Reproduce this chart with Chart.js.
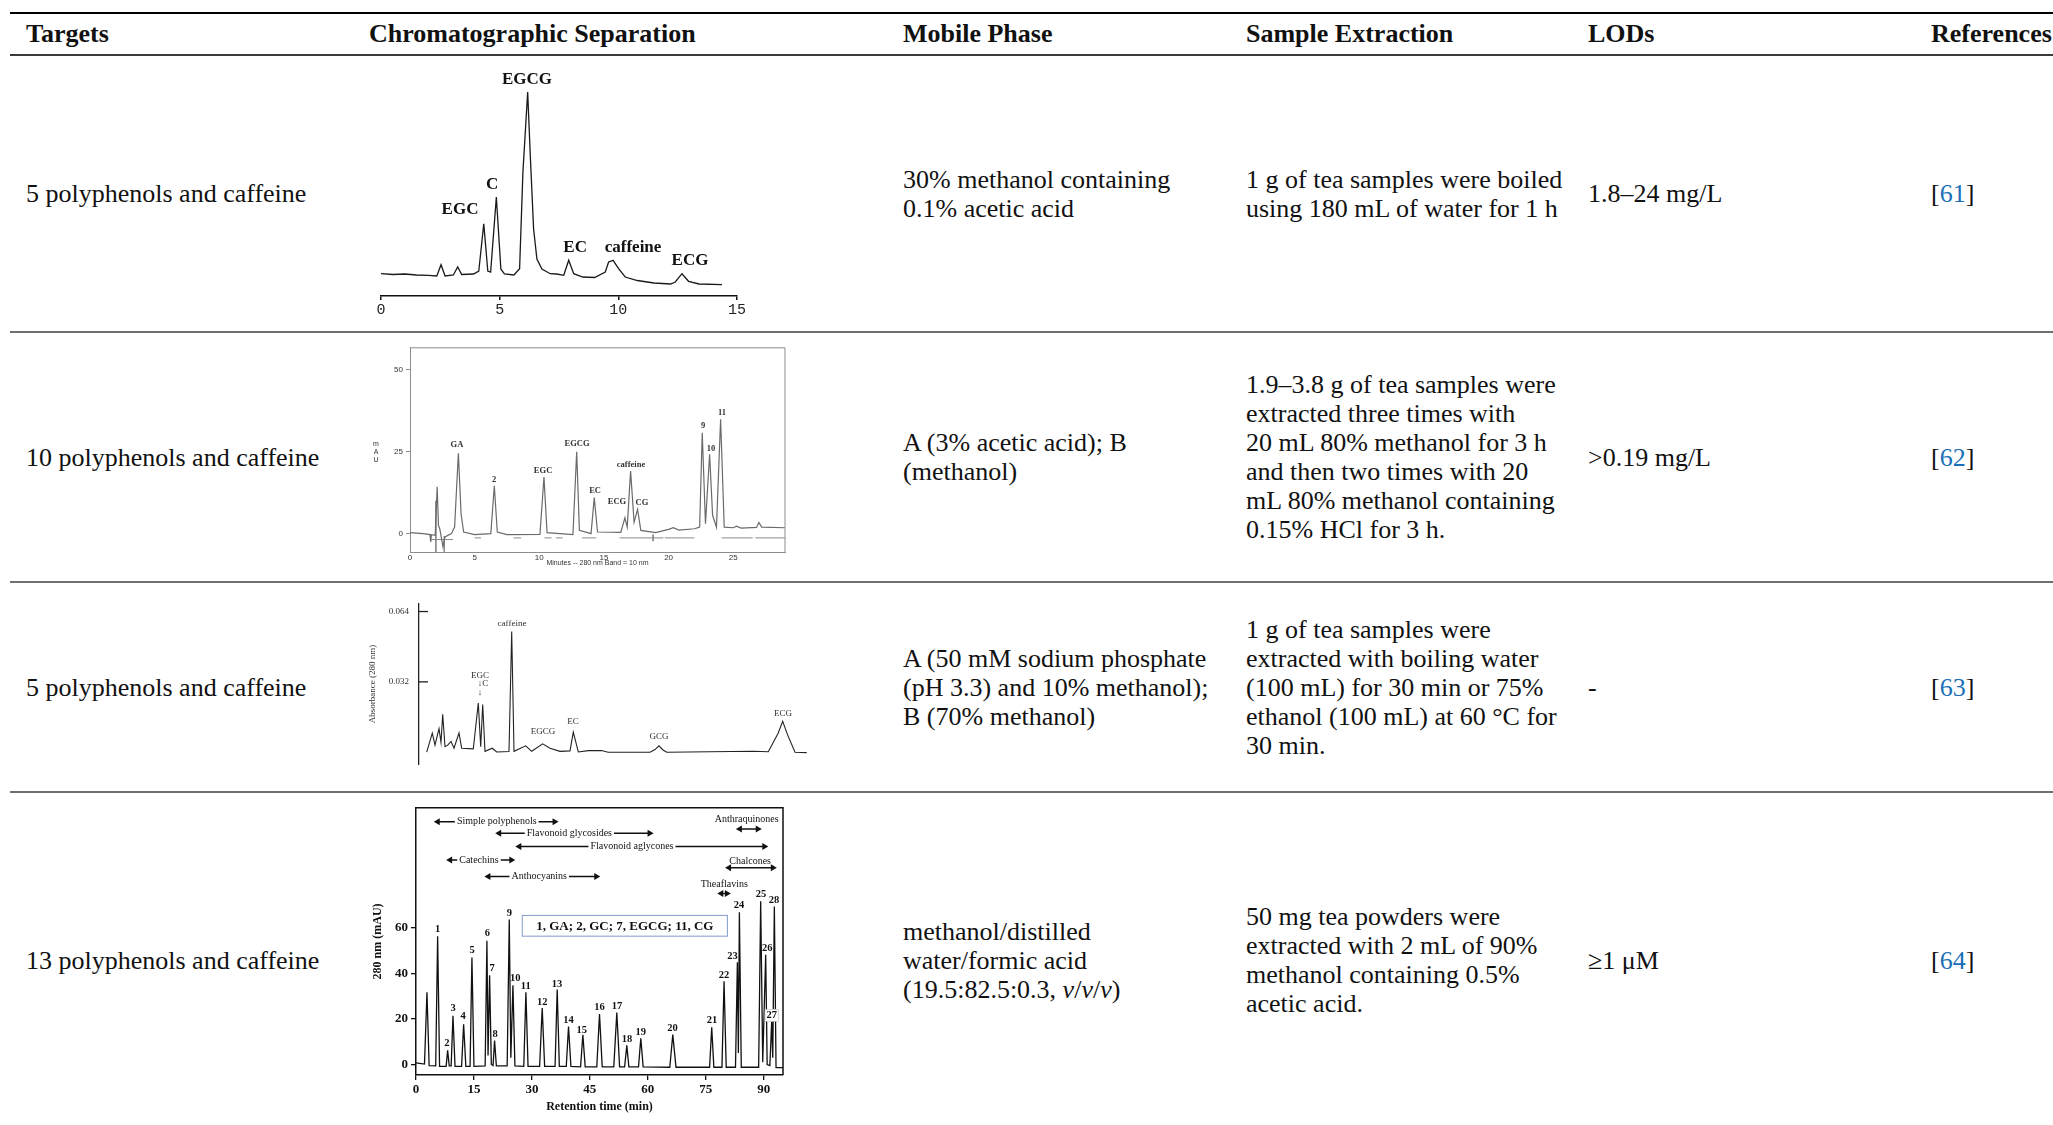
<!DOCTYPE html>
<html>
<head>
<meta charset="utf-8">
<script src="https://cdn.jsdelivr.net/npm/chart.js@4.4.1/dist/chart.umd.min.js"></script>
<style>
  html, body { margin: 0; padding: 0; background: #fff; }
  #page { position: relative; width: 2053px; height: 1125px; overflow: hidden; font-family: 'Liberation Serif', serif; color: #111; }
  .rule { position: absolute; left: 10px; right: 0; }
  .head { position: absolute; top: 14px; height: 40px; line-height: 40px; font-size: 26px; font-weight: bold; white-space: nowrap; }
  .cell { position: absolute; display: flex; align-items: center; font-size: 26px; line-height: 29px; white-space: nowrap; }
  .ref a { color: #1a6fb8; text-decoration: none; }
  canvas { position: absolute; }
</style>
</head>
<body>
<div id="page"></div>
<script>
// ---- table text ----
var headers = ['Targets', 'Chromatographic Separation', 'Mobile Phase', 'Sample Extraction', 'LODs', 'References'];
var targets = ['5 polyphenols and caffeine', '10 polyphenols and caffeine', '5 polyphenols and caffeine', '13 polyphenols and caffeine'];
var mobilePhase = [
  '30% methanol containing<br>0.1% acetic acid',
  'A (3% acetic acid); B<br>(methanol)',
  'A (50 mM sodium phosphate<br>(pH 3.3) and 10% methanol);<br>B (70% methanol)',
  'methanol/distilled<br>water/formic acid<br>(19.5:82.5:0.3, <i>v</i>/<i>v</i>/<i>v</i>)'
];
var extraction = [
  '1 g of tea samples were boiled<br>using 180 mL of water for 1 h',
  '1.9–3.8 g of tea samples were<br>extracted three times with<br>20 mL 80% methanol for 3 h<br>and then two times with 20<br>mL 80% methanol containing<br>0.15% HCl for 3 h.',
  '1 g of tea samples were<br>extracted with boiling water<br>(100 mL) for 30 min or 75%<br>ethanol (100 mL) at 60 °C for<br>30 min.',
  '50 mg tea powders were<br>extracted with 2 mL of 90%<br>methanol containing 0.5%<br>acetic acid.'
];
var lods = ['1.8–24 mg/L', '&gt;0.19 mg/L', '-', '≥1 μM'];
var refs = ['61', '62', '63', '64'];

// ---- chromatogram 1 (C18, 0-15 min) ----
var c1Time = [0,0.5,1.0,1.5,2.0,2.35,2.53,2.7,3.05,3.23,3.4,3.9,4.12,4.33,4.5,4.62,4.86,5.05,5.2,5.6,5.84,5.98,6.18,6.29,6.43,6.57,6.78,7.13,7.4,7.7,7.91,8.12,8.5,9.0,9.45,9.59,9.78,10.01,10.29,10.8,11.5,12.2,12.4,12.68,12.96,13.4,14.37];
var c1Signal = [22.3,21.5,22,21,20.7,20,31.3,20,21,29,21.5,22,25,72.3,25,24,99,27,22,21,27.3,124,204,140.7,67,37,27,22.3,22,20.7,35.7,22.3,19,18.5,24,34,35.7,27.3,19,15.5,13,12,14,22.3,14.7,12,11.3];
var c1Ticks = [0, 5, 10, 15];
var c1Labels = [['EGCG',6.15,216],['C',4.68,111],['EGC',3.33,86],['EC',8.18,48],['caffeine',10.62,48],['ECG',13.02,35]];

// ---- chromatogram 2 (mAU, 0-29 min) ----
var c2Time = [0,1.0,1.55,1.6,1.65,1.95,2.1,2.2,2.3,2.55,2.7,3.2,3.45,3.74,3.95,4.15,5.0,6.25,6.52,6.75,7.5,10.05,10.36,10.6,12.6,12.89,13.1,14.0,14.25,14.5,16.3,16.62,16.8,17.06,17.33,17.6,17.85,19.0,20.0,20.36,20.8,22.0,22.4,22.6,22.85,23.17,23.4,23.7,24.02,24.3,25.0,25.26,25.6,26.8,26.98,27.2,29.0];
var c2Signal = [0.3,0,-0.3,-2.5,-0.3,-0.5,14.3,2.5,1.5,-4.0,-1,0,2,24.5,6,0.5,-0.3,0,14.6,0.5,-0.3,-0.2,17.3,0.3,-0.3,25,1,0,11,0.5,0.4,4.8,2,19.1,3.5,7.4,1,0.3,1.3,1.8,1.1,1.5,2,30.8,3,24.2,5.6,2,34.9,2,1.8,2.3,1.7,1.9,3.4,2.0,1.8];
var c2MarkX = [1.62,3.33,3.33, 5.0,5.5,5.5, 8.0,8.6,8.6, 10.4,10.95,10.95, 11.3,11.8,11.8, 13.3,14.4,14.4, 16.2,19.6,19.6, 19.7,22.0,22.0, 24.1,26.5,26.5, 26.7,29.0,29.0, 2.0,2.0,2.0, 2.65,2.65,2.65, 18.8,18.8];
var c2MarkY = [-1.8,-1.8,null, -1.3,-1.3,null, -1.3,-1.3,null, -1.3,-1.3,null, -1.3,-1.3,null, -1.3,-1.3,null, -1.3,-1.3,null, -1.3,-1.3,null, -1.3,-1.3,null, -1.3,-1.3,null, 10,-5.6,null, -0.8,-5.6,null, -0.3,-2.3];
var c2XTicks = [0, 5, 10, 15, 20, 25];
var c2YTicks = [0, 25, 50];
var c2Labels = [['GA',3.63,27.2],['2',6.5,16.5],['EGC',10.29,19.3],['EGCG',12.92,27.5],['EC',14.31,13.2],['ECG',16.01,9.8],['caffeine',17.09,21.1],['CG',17.94,9.5],['9',22.66,33],['10',23.28,26],['11',24.13,36.9]];

// ---- chromatogram 3 (absorbance 280 nm) ----
var c3Time = [0.77,1.33,1.6,2.0,2.2,2.37,2.6,2.87,3.2,3.5,4.0,4.27,5.43,5.93,6.17,6.37,6.6,7.33,7.77,9.0,9.27,9.5,10.67,11.27,12.37,13.1,14.1,15.1,15.43,15.93,16.93,18.27,18.9,23.1,23.6,24.0,24.4,24.77,33.43,34.93,35.9,36.37,36.85,37.6,38.77];
var c3Signal = [0,0.0087,0.0032,0.0107,0.0045,0.0172,0.0025,0.0032,0.0049,0.0018,0.0087,0.0018,0.0015,0.0224,0.0025,0.0217,0.0004,0.0018,0.0001,0.0003,0.0549,0.0004,0.0029,0.0004,0.0038,0.0018,0.0004,0.0006,0.0091,0.0001,0.0007,0.0008,0,0,0.0012,0.0029,0.0010,0,0.0004,0.0002,0.0085,0.0141,0.0080,0,-0.0002];
var c3YTicks = [0.032, 0.064];
var c3Labels = [['caffeine',9.3,0.0586],['EGC',6.1,0.0347],['↓C',6.4,0.031],['↓',6.1,0.0273],['EGCG',12.4,0.0092],['EC',15.4,0.0137],['GCG',24.0,0.0071],['ECG',36.4,0.0174]];

// ---- chromatogram 4 (280 nm mAU, 0-95 min) ----
var c4Time = [0,2.2,2.84,3.4,5.1,5.6,6.1,7.8,8.19,8.6,9.1,9.57,10.1,11.8,12.33,12.9,14.0,14.48,15.0,17.9,18.36,18.65,19.05,19.5,19.95,20.34,20.8,23.6,24.14,24.55,25.09,25.6,27.9,28.45,29.0,32.0,32.67,33.3,36.0,36.55,37.1,38.9,39.48,40.1,42.6,43.19,43.8,46.8,47.5,48.2,51.2,51.98,52.7,54.0,54.57,55.1,57.6,58.19,58.8,65.7,66.47,67.3,76.0,76.55,77.1,79.2,79.74,80.3,82.7,83.19,83.45,83.71,84.2,88.7,89.22,89.75,90.52,90.9,91.6,92.07,92.35,92.76,93.2,95];
var c4Signal = [0.7,0.2,31.7,-0.5,-0.6,56.3,-0.8,-0.8,6.2,-0.6,-0.6,21.4,-0.8,-0.8,17.7,-0.8,-0.8,46.9,-0.8,-0.6,54.3,4,39.1,0,-0.5,10.5,-0.6,-0.6,63.6,3,34.8,-0.6,-0.8,31.7,-0.8,-0.8,24.8,-0.8,-0.8,32.9,-0.8,-0.8,16.7,-0.8,-1,13.0,-1,-1,22.1,-1,-1,22.8,-1,-1,8.4,-1,-1,11.5,-1,-1.2,13.1,-1.2,-1.2,16.3,-1.2,-1.2,36.5,-1.2,-1.2,44.9,5,66.8,-1.2,-1.2,71.6,1,48.1,0,-0.5,18.8,3,69.3,-1.4,-1.4];
var c4XTicks = [0, 15, 30, 45, 60, 75, 90];
var c4YTicks = [0, 20, 40, 60];
var c4Labels = [['1',5.6,59.3],['2',8.0,9.1],['3',9.6,24.7],['4',12.2,21.1],['5',14.5,50.2],['6',18.5,57.4],['7',19.7,42],['8',20.5,13.4],['9',24.2,66.5],['10',25.7,38],['11',28.4,34.3],['12',32.7,27.4],['13',36.5,35.4],['14',39.5,19.2],['15',42.9,14.9],['16',47.5,25],['17',52.0,25.4],['18',54.6,11],['19',58.2,14.1],['20',66.4,15.9],['21',76.6,19.2],['22',79.7,39.1],['23',81.9,47.6],['24',83.6,69.7],['25',89.3,74.7],['26',90.9,50.9],['27',92.1,21.6],['28',92.7,72.2]];
// compound classes: [label, from, to, arrow y, text x, text y]
var c4Groups = [
  ['Simple polyphenols', 4.6, 36.9, 106.5, 20.9, 106.5],
  ['Flavonoid glycosides', 20.5, 61.5, 101.4, 39.7, 101.4],
  ['Flavonoid aglycones', 25.7, 91.2, 95.6, 55.9, 95.6],
  ['Catechins', 7.8, 25.7, 89.7, 16.3, 89.7],
  ['Anthocyanins', 17.7, 47.7, 82.5, 31.9, 82.5],
  ['Anthraquinones', 82.8, 89.5, 103.3, 85.6, 107.4],
  ['Chalcones', 80.0, 93.4, 86.3, 86.5, 89.3],
  ['Theaflavins', 78.0, 81.5, 75.0, 79.8, 78.8]
];
var c4Key = ['1, GA; 2, GC; 7, EGCG; 11, CG', 27.5, 80.6, 65.4, 56.3];

// ---- page layout ----
var page = document.getElementById('page');
var colX = [26, 369, 903, 1246, 1588, 1931];
var rowTop = [55, 332, 582, 792];
var rowBot = [332, 582, 792, 1128];

function addDiv(cls, css, html) {
  var d = document.createElement('div');
  d.className = cls;
  d.style.cssText = css;
  if (html !== undefined) d.innerHTML = html;
  page.appendChild(d);
  return d;
}
addDiv('rule', 'top:12px;height:2.3px;background:#000;');
addDiv('rule', 'top:54.3px;height:1.5px;background:#3a3a3a;');
[331.3, 581.3, 791.3].forEach(function (y) { addDiv('rule', 'top:' + y + 'px;height:1.6px;background:#707070;'); });
headers.forEach(function (h, i) { addDiv('head', 'left:' + colX[i] + 'px;', h); });

function addCell(r, col, html, cls) {
  var box = 'top:' + rowTop[r] + 'px;height:' + (rowBot[r] - rowTop[r]) + 'px;left:' + colX[col] + 'px;';
  addDiv('cell' + (cls ? ' ' + cls : ''), box, '<div>' + html + '</div>');
}
for (var r = 0; r < 4; r++) {
  addCell(r, 0, targets[r]);
  addCell(r, 2, mobilePhase[r]);
  addCell(r, 3, extraction[r]);
  addCell(r, 4, lods[r]);
  addCell(r, 5, '[<a>' + refs[r] + '</a>]', 'ref');
}

function makeCanvas(left, top, w, h) {
  var c = document.createElement('canvas');
  c.width = w; c.height = h;
  c.style.left = left + 'px'; c.style.top = top + 'px';
  c.style.width = w + 'px'; c.style.height = h + 'px';
  page.appendChild(c);
  return c.getContext('2d');
}

// ---- helpers ----
Chart.defaults.font.family = "'Liberation Serif', serif";
Chart.defaults.color = '#000';
Chart.defaults.animation = false;

function pts(xs, ys) { return xs.map(function (x, i) { return { x: x, y: ys[i] }; }); }
function fixWidth(w) { return function (s) { s.width = w; }; }
function fixHeight(h) { return function (s) { s.height = h; }; }
function useTicks(vals) { return function (s) { s.ticks = vals.map(function (v) { return { value: v }; }); }; }

function labelPlugin(items, font, color, boxed) {
  return {
    id: 'peakLabels',
    afterDatasetsDraw: function (chart) {
      var ctx = chart.ctx, xs = chart.scales.x, ys = chart.scales.y;
      ctx.save();
      ctx.font = font;
      ctx.textAlign = 'center';
      ctx.textBaseline = 'middle';
      items.forEach(function (it) {
        var px = xs.getPixelForValue(it[1]), py = ys.getPixelForValue(it[2]);
        if (boxed && boxed.indexOf(it[0]) >= 0) {
          var w = ctx.measureText(it[0]).width;
          ctx.fillStyle = '#fff';
          ctx.fillRect(px - w / 2 - 1.5, py - 6, w + 3, 12);
          ctx.strokeStyle = '#bbb'; ctx.lineWidth = 0.6;
          ctx.strokeRect(px - w / 2 - 1.5, py - 6, w + 3, 12);
        }
        ctx.fillStyle = color;
        ctx.fillText(it[0], px, py);
      });
      ctx.restore();
    }
  };
}

function framePlugin(color, width) {
  return {
    id: 'frame',
    afterDraw: function (chart) {
      var a = chart.chartArea, ctx = chart.ctx;
      ctx.save();
      ctx.strokeStyle = color; ctx.lineWidth = width;
      ctx.beginPath();
      ctx.moveTo(a.left, a.top); ctx.lineTo(a.right, a.top); ctx.lineTo(a.right, a.bottom);
      ctx.stroke();
      ctx.restore();
    }
  };
}

function baseOptions(pad) {
  return {
    responsive: false,
    animation: false,
    events: [],
    layout: { padding: pad },
    elements: { point: { radius: 0 }, line: { tension: 0 } },
    plugins: { legend: { display: false }, tooltip: { enabled: false } }
  };
}

// ---- chart 1 ----
(function () {
  var opt = baseOptions({ left: 13, right: 13, top: 6, bottom: 7 });
  opt.scales = {
    x: {
      type: 'linear', min: 0, max: 15,
      afterBuildTicks: useTicks(c1Ticks), afterFit: fixHeight(22),
      border: { display: true, color: '#111', width: 1.5 },
      grid: { display: true, drawOnChartArea: false, drawTicks: true, tickLength: 4, color: '#111', lineWidth: 1.5 },
      ticks: { padding: 1, font: { family: "'Liberation Mono', monospace", size: 15 }, color: '#222', maxRotation: 0 }
    },
    y: { display: false, min: 0, max: 230 }
  };
  new Chart(makeCanvas(368, 60, 382, 265), {
    type: 'line',
    data: { datasets: [{ data: pts(c1Time, c1Signal), borderColor: '#1a1a1a', borderWidth: 1.3, fill: false }] },
    options: opt,
    plugins: [labelPlugin(c1Labels, "bold 17px 'Liberation Serif'", '#111')]
  });
})();

// ---- chart 2 ----
(function () {
  var opt = baseOptions({ left: 4, right: 9, top: 7, bottom: 5 });
  opt.scales = {
    x: {
      type: 'linear', min: 0, max: 29,
      afterBuildTicks: useTicks(c2XTicks), afterFit: fixHeight(15),
      border: { display: true, color: '#8c8c8c', width: 1 },
      grid: { display: false, drawTicks: false },
      ticks: { padding: 1, font: { family: "'Liberation Sans', sans-serif", size: 8 }, color: '#333', maxRotation: 0 },
      title: { display: true, text: 'Minutes -- 280 nm Band = 10 nm', font: { family: "'Liberation Sans', sans-serif", size: 7 }, color: '#333', padding: { top: 0, bottom: 0 } }
    },
    y: {
      min: -5.6, max: 56.7,
      afterBuildTicks: useTicks(c2YTicks), afterFit: fixWidth(44),
      border: { display: true, color: '#8c8c8c', width: 1 },
      grid: { display: true, drawOnChartArea: false, drawTicks: true, tickLength: 4, color: '#8c8c8c' },
      ticks: { padding: 3, font: { family: "'Liberation Sans', sans-serif", size: 8 }, color: '#333' }
    }
  };
  var mauTitle = {
    id: 'mau',
    afterDraw: function (chart) {
      var ctx = chart.ctx, y0 = chart.scales.y.getPixelForValue(25) - 8;
      ctx.save();
      ctx.font = "7px 'Liberation Sans'"; ctx.fillStyle = '#333';
      ctx.textAlign = 'center'; ctx.textBaseline = 'middle';
      ['m', 'A', 'U'].forEach(function (ch, i) { ctx.fillText(ch, chart.chartArea.left - 34, y0 + i * 8); });
      ctx.restore();
    }
  };
  new Chart(makeCanvas(362, 340, 432, 232), {
    type: 'line',
    data: {
      datasets: [
        { data: pts(c2Time, c2Signal), borderColor: '#6a6a6a', borderWidth: 1.2, fill: false },
        { data: pts(c2MarkX, c2MarkY), borderColor: '#8a8a8a', borderWidth: 1, fill: false, spanGaps: false }
      ]
    },
    options: opt,
    plugins: [framePlugin('#8c8c8c', 1), mauTitle, labelPlugin(c2Labels, "bold 8.5px 'Liberation Serif'", '#333')]
  });
})();

// ---- chart 3 ----
(function () {
  var opt = baseOptions({ left: 3, right: 5, top: 7, bottom: 7 });
  opt.scales = {
    x: { type: 'linear', display: false, min: 0, max: 39 },
    y: {
      min: -0.00564, max: 0.0677,
      afterBuildTicks: useTicks(c3YTicks), afterFit: fixWidth(54),
      border: { display: true, color: '#222', width: 1.3 },
      grid: { display: false, drawTicks: false },
      ticks: { padding: 10, font: { size: 9 }, color: '#333', callback: function (v) { return v.toFixed(3); } },
      title: { display: true, text: 'Absorbance (280 nm)', font: { size: 9 }, color: '#333', padding: { top: 2, bottom: 0 } }
    }
  };
  var innerTicks = {
    id: 'innerTicks',
    afterDraw: function (chart) {
      var ctx = chart.ctx, ys = chart.scales.y, l = chart.chartArea.left;
      ctx.save();
      ctx.strokeStyle = '#222'; ctx.lineWidth = 1.3;
      c3YTicks.forEach(function (v) {
        var y = ys.getPixelForValue(v);
        ctx.beginPath(); ctx.moveTo(l, y); ctx.lineTo(l + 9, y); ctx.stroke();
      });
      ctx.restore();
    }
  };
  new Chart(makeCanvas(362, 588, 452, 192), {
    type: 'line',
    data: { datasets: [{ data: pts(c3Time, c3Signal), borderColor: '#222', borderWidth: 1.1, fill: false }] },
    options: opt,
    plugins: [innerTicks, labelPlugin(c3Labels, "9px 'Liberation Serif'", '#333')]
  });
})();

// ---- chart 4 ----
(function () {
  var opt = baseOptions({ left: 4, right: 7, top: 7, bottom: 8 });
  opt.scales = {
    x: {
      type: 'linear', min: 0, max: 95,
      afterBuildTicks: useTicks(c4XTicks), afterFit: fixHeight(42),
      border: { display: true, color: '#111', width: 1.5 },
      grid: { display: true, drawOnChartArea: false, drawTicks: true, tickLength: 5, color: '#111', lineWidth: 1.3 },
      ticks: { padding: 2, font: { size: 13, weight: 'bold' }, color: '#111', maxRotation: 0 },
      title: { display: true, text: 'Retention time (min)', font: { size: 12, weight: 'bold' }, color: '#111', padding: { top: 0, bottom: 3 } }
    },
    y: {
      min: -4.6, max: 112.6,
      afterBuildTicks: useTicks(c4YTicks), afterFit: fixWidth(50),
      border: { display: true, color: '#111', width: 1.5 },
      grid: { display: true, drawOnChartArea: false, drawTicks: true, tickLength: 5, color: '#111', lineWidth: 1.3 },
      ticks: { padding: 3, font: { size: 13, weight: 'bold' }, color: '#111' },
      title: { display: true, text: '280 nm (mAU)', font: { size: 12, weight: 'bold' }, color: '#111', padding: { top: 5, bottom: 0 } }
    }
  };
  var groups = {
    id: 'groups',
    afterDatasetsDraw: function (chart) {
      var ctx = chart.ctx, xs = chart.scales.x, ys = chart.scales.y;
      function head(x, y, dir) {
        ctx.beginPath();
        ctx.moveTo(x, y); ctx.lineTo(x - dir * 6, y - 3.5); ctx.lineTo(x - dir * 6, y + 3.5);
        ctx.closePath(); ctx.fill();
      }
      ctx.save();
      ctx.font = "10px 'Liberation Serif'";
      ctx.fillStyle = '#111'; ctx.strokeStyle = '#111'; ctx.lineWidth = 1.5;
      ctx.textAlign = 'center'; ctx.textBaseline = 'middle';
      c4Groups.forEach(function (g) {
        var x1 = xs.getPixelForValue(g[1]), x2 = xs.getPixelForValue(g[2]);
        var ay = ys.getPixelForValue(g[3]), tx = xs.getPixelForValue(g[4]), ty = ys.getPixelForValue(g[5]);
        var w = ctx.measureText(g[0]).width;
        ctx.beginPath();
        if (g[3] === g[5]) {
          ctx.moveTo(x1 + 3, ay); ctx.lineTo(tx - w / 2 - 2, ay);
          ctx.moveTo(tx + w / 2 + 2, ay); ctx.lineTo(x2 - 3, ay);
        } else {
          ctx.moveTo(x1 + 3, ay); ctx.lineTo(x2 - 3, ay);
        }
        ctx.stroke();
        head(x1, ay, -1); head(x2, ay, 1);
        ctx.fillText(g[0], tx, ty);
      });
      // key box
      var bx1 = xs.getPixelForValue(c4Key[1]), bx2 = xs.getPixelForValue(c4Key[2]);
      var by1 = ys.getPixelForValue(c4Key[3]), by2 = ys.getPixelForValue(c4Key[4]);
      ctx.fillStyle = '#fff';
      ctx.fillRect(bx1, by1, bx2 - bx1, by2 - by1);
      ctx.strokeStyle = '#7f9ccb'; ctx.lineWidth = 1;
      ctx.strokeRect(bx1, by1, bx2 - bx1, by2 - by1);
      ctx.fillStyle = '#111';
      ctx.font = "bold 13px 'Liberation Serif'";
      ctx.fillText(c4Key[0], (bx1 + bx2) / 2, (by1 + by2) / 2 + 0.5);
      ctx.restore();
    }
  };
  new Chart(makeCanvas(362, 797, 428, 328), {
    type: 'line',
    data: { datasets: [{ data: pts(c4Time, c4Signal), borderColor: '#111', borderWidth: 1.3, fill: false }] },
    options: opt,
    plugins: [framePlugin('#111', 1.5), groups, labelPlugin(c4Labels, "bold 10.5px 'Liberation Serif'", '#111', ['27'])]
  });
})();
</script>
</body>
</html>
